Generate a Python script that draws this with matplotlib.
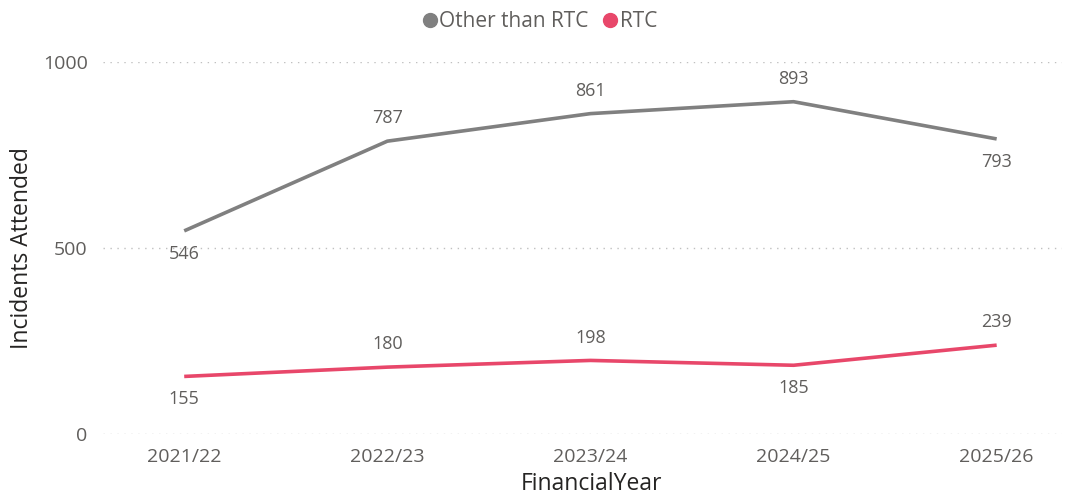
import numpy as np
import matplotlib.pyplot as plt
from matplotlib.lines import Line2D

# data
years = ["2021/22", "2022/23", "2023/24", "2024/25", "2025/26"]
other_than_rtc = [546, 787, 861, 893, 793]
rtc = [155, 180, 198, 185, 239]

# label placement: +1 above the point, -1 below
other_pos = [-1, 1, 1, 1, -1]
rtc_pos = [-1, 1, 1, -1, 1]

grey = "#808080"
red = "#E8476A"
text_col = "#605E5C"

plt.rcParams['font.family'] = ['Open Sans', 'DejaVu Sans']

fig = plt.figure(figsize=(10.67, 4.99), dpi=100)
ax = fig.add_axes([0.0965, 0.130, 0.8985, 0.746])

x = np.arange(len(years))
ax.plot(x, other_than_rtc, color=grey, lw=2.6, solid_capstyle="butt", zorder=3)
ax.plot(x, rtc, color=red, lw=2.6, solid_capstyle="butt", zorder=3)

for xs, ys, ps in [(x, other_than_rtc, other_pos), (x, rtc, rtc_pos)]:
    for xi, yi, p in zip(xs, ys, ps):
        ax.annotate(str(yi), (xi, yi), xytext=(0, 10 * p), textcoords="offset points",
                    ha="center", va="bottom" if p > 0 else "top",
                    fontsize=13, color=text_col)

ax.set_xlim(-0.40, 4.32)
ax.set_ylim(0, 1000)
ax.set_yticks([0, 500, 1000])
ax.set_xticks(x)
ax.set_xticklabels(years)
ax.grid(axis="y", linestyle=(0, (1, 4)), color="#C0C0C0", lw=1.0)
ax.set_axisbelow(True)
for s in ax.spines.values():
    s.set_visible(False)
ax.tick_params(length=0, labelsize=14, colors=text_col, pad=10)
ax.tick_params(axis="y", pad=11)

ax.set_xlabel("FinancialYear", fontsize=16.5, color="#252423")
ax.set_ylabel("Incidents Attended", fontsize=16.5, color="#252423")
ax.xaxis.set_label_coords(0.51, -0.103)
ax.yaxis.set_label_coords(-0.072, 0.5)

handles = [Line2D([], [], ls="", marker="o", markersize=10, color=grey),
           Line2D([], [], ls="", marker="o", markersize=10, color=red)]
fig.legend(handles, ["Other than RTC", "RTC"], loc="upper center",
           bbox_to_anchor=(0.505, 1.015), ncol=2, frameon=False,
           fontsize=15, labelcolor=text_col, handletextpad=0.0,
           columnspacing=0.6, handlelength=0.9)

fig.savefig("out.png", dpi=100)
